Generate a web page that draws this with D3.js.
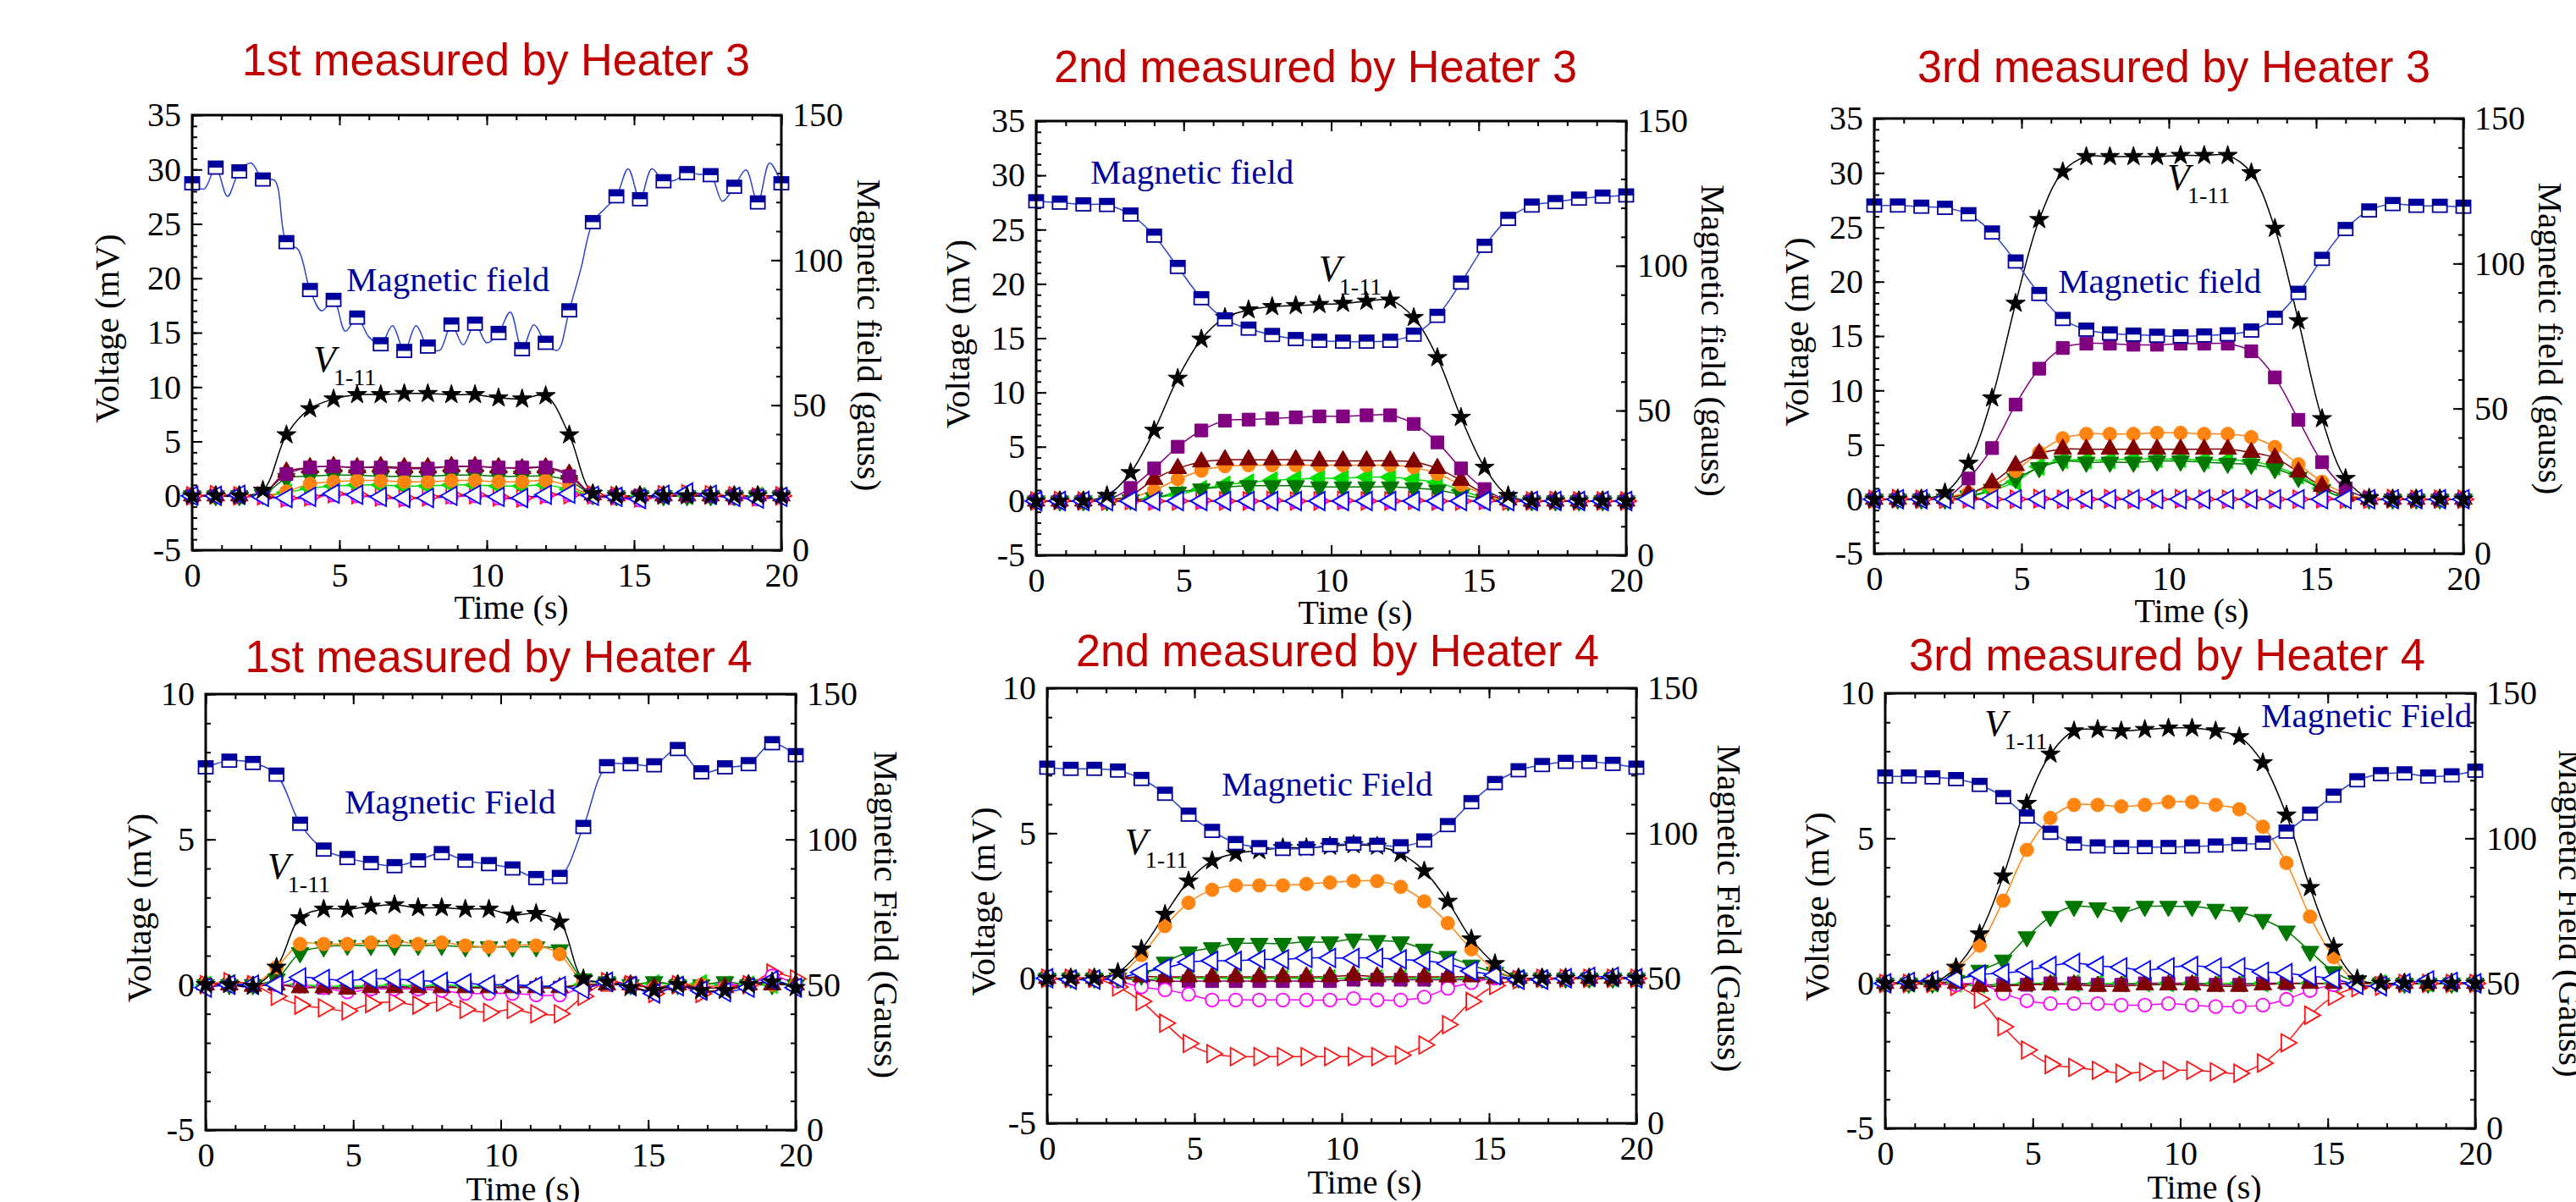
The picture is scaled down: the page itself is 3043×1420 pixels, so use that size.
<!DOCTYPE html>
<html>
<head>
<meta charset="utf-8">
<script src="https://cdn.jsdelivr.net/npm/d3@7"></script>
<style>
    html, body { margin: 0; padding: 0; background: #fff; }
    svg { display: block; }
</style>
</head>
<body>
<svg id="chart"></svg>
<script>
// sample times (s), one marker every 0.8 s
const times = [0, 0.8, 1.6, 2.4, 3.2, 4.0, 4.8, 5.6, 6.4, 7.2, 8.0, 8.8, 9.6, 10.4, 11.2, 12.0, 12.8, 13.6, 14.4, 15.2, 16.0, 16.8, 17.6, 18.4, 19.2, 20.0]
// the field trace of the first run is logged twice as often as the markers
const denseTimes = [0, 0.4, 0.8, 1.2, 1.6, 2.0, 2.4, 2.8, 3.2, 3.6, 4.0, 4.4, 4.8, 5.2, 5.6, 6.0, 6.4, 6.8, 7.2, 7.6, 8.0, 8.4, 8.8, 9.2, 9.6, 10.0,
    10.4, 10.8, 11.2, 11.6, 12.0, 12.4, 12.8, 13.2, 13.6, 14.0, 14.4, 14.8, 15.2, 15.6, 16.0, 16.4, 16.8, 17.2, 17.6, 18.0, 18.4, 18.8, 19.2, 19.6, 20.0]

const runTitles = ['1st measured by Heater 3', '2nd measured by Heater 3', '3rd measured by Heater 3',
    '1st measured by Heater 4', '2nd measured by Heater 4', '3rd measured by Heater 4']

const xTickLabels = [0, 5, 10, 15, 20]
const voltTicksHeater3 = [-5, 0, 5, 10, 15, 20, 25, 30, 35]
const voltTicksHeater4 = [-5, 0, 5, 10]
const fieldTicks = [0, 50, 100, 150]

// ---- heater 3, run 1 ----
const h3r1Field = [126.5, 131.9, 130.6, 127.8, 106.2, 89.7, 86.3, 80.2, 71.0, 68.7, 70.2, 77.8, 78.1, 74.9, 69.3, 71.5, 82.7, 113.1, 122.0, 121.0, 127.2, 130.0, 129.3, 125.3, 119.9, 126.5]
const h3r1FieldTrace = [126.5, 124.5, 131.9, 122.0, 130.6, 133.5, 127.8, 127.5, 106.2, 103.6, 89.7, 82.5, 86.3, 75.5, 80.2, 73.5, 71.0, 77.4, 68.7, 77.4, 70.2, 68.9, 77.8, 70.8, 78.1, 71.5,
    74.9, 82.1, 69.3, 77.7, 71.5, 68.9, 82.7, 97.2, 113.1, 117.7, 122.0, 131.5, 121.0, 131.5, 127.2, 127.6, 130.0, 129.6, 129.3, 120.3, 125.3, 131.1, 119.9, 133.5, 126.5]
const h3r1V = [0, 0, 0, 0.5, 5.6, 8.0, 8.9, 9.3, 9.3, 9.4, 9.4, 9.3, 9.3, 9.0, 8.9, 9.2, 5.6, 0.2, 0, 0, 0, 0, 0, 0, 0, 0]
const h3r1Purple = [0, 0, 0, 0.2, 2.0, 2.6, 2.7, 2.6, 2.6, 2.5, 2.5, 2.7, 2.7, 2.6, 2.6, 2.6, 1.8, 0.1, 0, 0, 0, 0, 0, 0, 0, 0]
const h3r1Maroon = [0, 0, 0, 0.2, 2.2, 2.6, 2.7, 2.6, 2.7, 2.6, 2.6, 2.7, 2.7, 2.6, 2.5, 2.6, 2.0, 0.1, 0, 0, 0, 0, 0, 0, 0, 0]
const h3r1Orange = [0, 0, 0, 0, 0.4, 1.1, 1.3, 1.4, 1.4, 1.3, 1.3, 1.4, 1.4, 1.3, 1.3, 1.4, 0.9, 0, 0, 0, 0, 0, 0, 0, 0, 0]
const h3r1DkGreen = [0, 0, 0, 0.1, 1.6, 1.8, 1.9, 1.9, 1.8, 1.8, 1.8, 1.9, 1.9, 1.8, 1.8, 1.8, 1.4, 0.1, 0, 0, 0, 0, 0, 0, 0, 0]
const h3r1LtGreen = [0, 0, 0, 0, 0.3, 0.7, 0.9, 1.0, 1.0, 0.9, 0.9, 1.0, 1.0, 0.9, 0.9, 1.0, 0.6, 0, 0, 0, 0, 0, 0, 0, 0, 0]
const h3r1Blue = [0, 0, 0.1, -0.1, -0.2, -0.1, 0.2, 0.1, -0.1, -0.2, -0.2, 0, 0.1, -0.1, -0.2, 0.1, 0.2, 0, -0.1, -0.3, 0.1, 0.3, 0.1, -0.1, -0.25, -0.1]
const h3r1Magenta = [-0.1, 0, -0.1, -0.1, -0.3, -0.2, 0.1, 0, -0.2, -0.3, -0.2, -0.1, 0, -0.2, -0.3, 0, 0.1, -0.1, -0.2, -0.4, 0, 0.2, 0, -0.2, -0.3, -0.1]
const h3r1Red = [0, 0.1, 0, 0, -0.2, -0.1, 0.2, 0.1, -0.1, -0.2, -0.1, 0.1, 0.1, -0.1, -0.2, 0.1, 0.1, 0.1, 0, -0.2, 0.1, 0.2, 0.1, 0, -0.1, 0]

// ---- heater 3, run 2 ----
const h3r2Field = [122.3, 121.8, 121.2, 121.0, 117.7, 110.4, 99.6, 88.8, 81.5, 78.3, 76.1, 74.7, 74.1, 73.8, 73.8, 74.1, 76.2, 82.7, 94.2, 106.9, 116.2, 120.8, 122.0, 123.2, 123.9, 124.3]
const h3r2V = [0, 0, 0, 0.5, 2.6, 6.5, 11.3, 14.9, 16.9, 17.6, 17.9, 18.0, 18.1, 18.2, 18.4, 18.5, 16.9, 13.2, 7.7, 3.1, 0.5, 0, 0, 0, 0, 0]
const h3r2Purple = [0, 0, 0, 0.1, 1.2, 3.0, 5.0, 6.5, 7.4, 7.5, 7.6, 7.7, 7.8, 7.8, 7.9, 7.9, 7.1, 5.4, 3.0, 1.1, 0.1, 0, 0, 0, 0, 0]
const h3r2Maroon = [0, 0, 0, 0.1, 0.5, 2.0, 3.0, 3.6, 3.8, 3.8, 3.8, 3.8, 3.7, 3.7, 3.7, 3.7, 3.6, 3.0, 1.9, 0.7, 0.1, 0, 0, 0, 0, 0]
const h3r2Orange = [0, 0, 0, 0, 0.3, 1.0, 2.0, 2.8, 3.2, 3.3, 3.3, 3.3, 3.3, 3.3, 3.3, 3.3, 3.1, 2.5, 1.5, 0.6, 0, 0, 0, 0, 0, 0]
const h3r2DkGreen = [0, 0, 0, 0, 0.1, 0.3, 0.8, 1.1, 1.3, 1.4, 1.4, 1.4, 1.3, 1.3, 1.3, 1.3, 1.2, 1.0, 0.6, 0.2, 0, 0, 0, 0, 0, 0]
const h3r2LtGreen = [0, 0, 0, 0, 0.1, 0.3, 0.6, 1.1, 1.5, 1.7, 1.9, 2.0, 2.1, 2.1, 2.2, 2.2, 2.0, 1.7, 1.0, 0.3, 0, 0, 0, 0, 0, 0]
const h3r2Blue = [0, 0, 0, 0, 0, 0, 0, 0, 0, 0, 0, 0, 0, 0, 0, 0, 0, 0, 0, 0, 0, 0, 0, 0, 0, 0]
const h3r2Magenta = [0, -0.05, 0, -0.05, 0, -0.05, 0, -0.05, 0, -0.05, 0, -0.05, 0, -0.05, 0, -0.05, 0, -0.05, 0, -0.05, 0, -0.05, 0, -0.05, 0, 0]
const h3r2Red = [0, 0.05, 0, 0, 0.05, 0, 0, 0.05, 0, 0, 0.05, 0, 0, 0.05, 0, 0, 0.05, 0, 0, 0.05, 0, 0, 0.05, 0, 0, 0]

// ---- heater 3, run 3 ----
const h3r3Field = [120.0, 120.0, 119.6, 119.2, 117.0, 110.7, 100.7, 89.5, 80.9, 77.2, 75.9, 75.5, 75.1, 74.9, 75.2, 75.6, 76.9, 81.3, 89.9, 101.6, 111.9, 118.3, 120.5, 119.9, 119.9, 119.6]
const h3r3V = [0, 0, 0, 0.6, 3.3, 9.3, 18.0, 25.7, 30.1, 31.5, 31.5, 31.5, 31.5, 31.6, 31.6, 31.6, 30.0, 24.9, 16.4, 7.4, 1.9, 0.1, 0, 0, 0, 0]
const h3r3Purple = [0, 0, 0, 0.1, 1.9, 4.7, 8.7, 12.0, 13.9, 14.3, 14.3, 14.2, 14.2, 14.3, 14.3, 14.3, 13.6, 11.2, 7.3, 3.4, 1.0, 0.1, 0, 0, 0, 0]
const h3r3Maroon = [0, 0, 0, 0.1, 0.5, 1.5, 3.1, 4.2, 4.6, 4.6, 4.6, 4.6, 4.6, 4.6, 4.6, 4.6, 4.3, 3.8, 2.5, 1.2, 0.3, 0, 0, 0, 0, 0]
const h3r3Orange = [0, 0, 0, 0.2, 0.6, 1.2, 2.6, 4.3, 5.6, 6.0, 6.0, 6.0, 6.1, 6.1, 6.0, 6.0, 5.7, 4.8, 3.2, 1.6, 0.5, 0, 0, 0, 0, 0]
const h3r3DkGreen = [0, 0, 0, 0, 0.3, 0.9, 1.9, 2.9, 3.5, 3.4, 3.4, 3.4, 3.5, 3.5, 3.4, 3.3, 3.2, 2.8, 2.0, 0.9, 0.1, 0, 0, 0, 0, 0]
const h3r3LtGreen = [0, 0, 0, 0, 0.2, 0.8, 1.6, 3.0, 3.6, 3.6, 3.6, 3.7, 3.7, 3.7, 3.6, 3.6, 3.5, 3.0, 2.2, 1.0, 0.1, 0, 0, 0, 0, 0]
const h3r3Blue = [0, 0, 0, 0, 0, 0, 0, 0, 0, 0, 0, 0, 0, 0, 0, 0, 0, 0, 0, 0, 0, 0, 0, 0, 0, 0]
const h3r3Magenta = [0, -0.05, 0, -0.05, 0, -0.05, 0, -0.05, 0, -0.05, 0, -0.05, 0, -0.05, 0, -0.05, 0, -0.05, 0, -0.05, 0, -0.05, 0, -0.05, 0, 0]
const h3r3Red = [0, 0.05, 0, 0, 0.05, 0, 0, 0.05, 0, 0, 0.05, 0, 0, 0.05, 0, 0, 0.05, 0, 0, 0.05, 0, 0, 0.05, 0, 0, 0]

// ---- heater 4, run 1 ----
const h4r1Field = [124.8, 127.1, 126.3, 122.3, 105.4, 96.5, 93.6, 91.9, 90.8, 92.8, 95.3, 92.7, 91.5, 90.0, 86.7, 87.1, 104.3, 125.2, 125.9, 125.5, 131.1, 123.1, 124.8, 125.9, 133.1, 129.0]
const h4r1V = [0, 0, -0.05, 0.6, 2.3, 2.6, 2.6, 2.7, 2.75, 2.65, 2.65, 2.6, 2.6, 2.4, 2.45, 2.15, 0.2, 0.1, -0.1, -0.2, 0, -0.2, -0.2, 0, 0.1, -0.1]
const h4r1Orange = [0, 0, 0, 0.6, 1.4, 1.4, 1.4, 1.45, 1.5, 1.4, 1.45, 1.35, 1.3, 1.35, 1.35, 1.05, 0.1, 0, 0, -0.1, 0, 0, -0.1, 0, 0, 0]
const h4r1DkGreen = [0, 0, 0, 0.2, 1.1, 1.3, 1.35, 1.35, 1.35, 1.35, 1.35, 1.3, 1.3, 1.3, 1.3, 1.2, 0.2, 0.1, 0, 0.1, 0, 0, 0.1, 0, 0, 0]
const h4r1Blue = [-0.1, 0, 0, 0, 0.25, 0.2, 0.15, 0.2, 0.2, 0.15, 0.1, 0.05, 0, 0, -0.05, -0.05, -0.15, 0.1, -0.05, -0.3, -0.05, -0.2, -0.25, -0.1, 0.15, -0.1]
const h4r1Magenta = [-0.05, 0, 0, 0, -0.05, -0.1, -0.25, -0.15, -0.15, -0.15, -0.2, -0.3, -0.3, -0.3, -0.35, -0.35, -0.1, 0, 0, -0.1, 0, -0.1, 0, 0, 0.3, 0]
const h4r1Red = [0, 0.1, 0, -0.4, -0.7, -0.8, -0.9, -0.65, -0.6, -0.7, -0.6, -0.85, -0.95, -0.85, -1.0, -1.0, -0.4, 0.1, 0, -0.3, 0, -0.3, -0.1, 0, 0.4, 0.2]
const h4r1Maroon = [0, 0, -0.05, 0, -0.1, -0.1, -0.15, -0.1, -0.1, -0.1, -0.1, -0.1, -0.1, -0.1, -0.1, -0.1, 0, 0, 0, -0.1, 0, -0.1, -0.1, 0, 0, 0]
const h4r1Purple = [0, 0, 0, 0, -0.05, -0.1, -0.1, -0.1, -0.05, -0.1, -0.05, -0.1, -0.1, -0.05, -0.1, -0.1, 0, 0, 0.05, -0.1, 0, -0.1, 0, 0, 0.05, 0]
const h4r1LtGreen = [0, 0.05, 0, 0, 0, -0.05, -0.05, -0.05, 0, -0.05, 0, -0.05, -0.05, 0, -0.05, -0.05, 0, 0.05, 0, 0.05, 0, 0.05, 0, 0, 0, 0]

// ---- heater 4, run 2 ----
const h4r2Field = [122.6, 122.2, 122.2, 121.6, 118.7, 113.6, 106.4, 100.8, 96.6, 95.2, 94.6, 94.8, 95.9, 96.4, 96.0, 95.5, 97.5, 102.8, 110.7, 117.3, 121.7, 123.5, 124.6, 124.6, 123.9, 122.6]
const h4r2V = [0, 0, 0, 0.2, 1.0, 2.2, 3.35, 4.05, 4.3, 4.4, 4.5, 4.5, 4.55, 4.6, 4.55, 4.3, 3.7, 2.65, 1.35, 0.5, 0, 0, 0, 0, 0, 0]
const h4r2Orange = [0, 0, 0, 0.1, 0.8, 1.8, 2.6, 3.05, 3.2, 3.2, 3.2, 3.25, 3.3, 3.35, 3.35, 3.15, 2.65, 1.9, 1.0, 0.3, 0, 0, 0, 0, 0, 0]
const h4r2DkGreen = [0, 0, 0, 0, 0.1, 0.55, 0.9, 1.05, 1.2, 1.2, 1.2, 1.25, 1.25, 1.35, 1.3, 1.25, 1.0, 0.75, 0.45, 0.2, 0, 0, 0, 0, 0, 0]
const h4r2Blue = [0, -0.05, -0.05, 0, 0.2, 0.35, 0.55, 0.6, 0.6, 0.65, 0.65, 0.7, 0.7, 0.7, 0.7, 0.65, 0.6, 0.5, 0.25, 0.1, -0.05, -0.05, 0, 0.05, 0.05, 0]
const h4r2Magenta = [0, 0, 0, -0.1, -0.3, -0.4, -0.55, -0.75, -0.75, -0.75, -0.75, -0.75, -0.75, -0.7, -0.75, -0.75, -0.65, -0.35, -0.15, 0, 0, 0, 0, 0, 0, 0]
const h4r2Red = [0, 0, 0, -0.3, -0.8, -1.55, -2.25, -2.6, -2.7, -2.7, -2.7, -2.7, -2.7, -2.7, -2.7, -2.65, -2.3, -1.6, -0.8, -0.25, -0.05, 0, 0, 0, 0, 0]
const h4r2Maroon = [0, 0, 0, 0, 0.05, 0.05, 0.05, 0.05, 0.05, 0.05, 0.05, 0.05, 0.05, 0.1, 0.05, 0.05, 0.05, 0.05, 0.05, 0, 0, 0, 0, 0, 0, 0]
const h4r2Purple = [0, 0, 0, 0, -0.05, -0.1, -0.1, -0.1, -0.1, -0.1, -0.1, -0.1, -0.1, -0.05, -0.05, -0.05, -0.05, -0.05, -0.05, 0, 0, 0, 0, 0, 0, 0]
const h4r2LtGreen = [0, 0, 0, 0, -0.05, 0, 0, 0, 0, 0, 0, 0, 0, 0, 0, 0, 0, 0, 0, 0, 0, 0, 0, 0, 0, 0]

// ---- heater 4, run 3 ----
const h4r3Field = [121.3, 121.3, 121.0, 120.4, 118.4, 114.2, 107.5, 101.9, 98.2, 97.2, 97.0, 97.0, 97.0, 97.2, 97.5, 98.0, 98.5, 102.3, 108.5, 114.7, 120.0, 122.1, 122.4, 121.3, 121.7, 123.3]
const h4r3V = [0, 0, 0, 0.55, 1.7, 3.7, 6.2, 7.9, 8.7, 8.75, 8.7, 8.75, 8.8, 8.8, 8.7, 8.5, 7.6, 5.8, 3.3, 1.25, 0.15, 0, 0, 0, 0, 0]
const h4r3Orange = [0, 0, 0, 0.5, 1.3, 2.85, 4.6, 5.7, 6.15, 6.15, 6.1, 6.15, 6.25, 6.25, 6.15, 6.0, 5.4, 4.15, 2.3, 0.9, 0.05, 0, 0, 0, 0, 0]
const h4r3DkGreen = [0, 0, 0, 0.1, 0.45, 0.8, 1.6, 2.3, 2.65, 2.6, 2.45, 2.65, 2.65, 2.65, 2.55, 2.45, 2.2, 1.8, 1.1, 0.4, 0.05, 0, 0, 0, 0, 0]
const h4r3Blue = [0, 0.05, 0.1, 0.15, 0.3, 0.35, 0.45, 0.6, 0.7, 0.6, 0.55, 0.45, 0.55, 0.6, 0.55, 0.55, 0.4, 0.35, 0.25, 0.15, -0.05, -0.1, 0, 0.1, 0.05, 0]
const h4r3Magenta = [0, 0, 0, -0.05, 0, -0.35, -0.6, -0.7, -0.7, -0.7, -0.75, -0.75, -0.7, -0.75, -0.8, -0.8, -0.75, -0.55, -0.25, -0.05, 0, 0, 0, 0, 0, 0]
const h4r3Red = [0, 0, 0, -0.1, -0.55, -1.5, -2.3, -2.8, -2.9, -3.0, -3.1, -3.05, -3.0, -3.0, -3.05, -3.1, -2.75, -2.05, -1.1, -0.45, -0.15, -0.1, 0, 0, 0, 0]
const h4r3Maroon = [0, 0, 0.05, 0, -0.1, -0.1, -0.05, -0.05, -0.05, -0.1, -0.1, -0.05, -0.05, -0.05, -0.1, -0.1, -0.05, 0, 0, 0, 0, 0, 0, 0, 0, 0]
const h4r3Purple = [0, 0, 0, 0, -0.05, -0.05, -0.05, 0, 0, -0.05, -0.05, 0, 0, 0, -0.05, -0.05, 0, 0, 0, 0, 0, 0, 0, 0, 0, 0]
const h4r3LtGreen = [0, 0, 0, 0, -0.05, -0.05, 0, 0, 0, 0, 0, 0, 0, 0, 0, 0, 0, 0, 0, 0, 0, 0, 0, 0, 0, 0]

// annotation anchors in data units [time, voltage]
const v111Anchors = [[4.11, 11.4], [9.58, 20.3], [9.94, 28.5], [2.09, 3.65], [2.64, 4.28], [3.36, 8.54]]
const fieldLabelAnchors = [[5.23, 18.8], [1.84, 29.2], [6.24, 19.0], [4.71, 5.9], [5.92, 6.3], [12.74, 8.83]]

const runs = [
    { field: h3r1Field, trace: h3r1FieldTrace, series: { red: h3r1Red, magenta: h3r1Magenta, ltgreen: h3r1LtGreen, dkgreen: h3r1DkGreen, orange: h3r1Orange, maroon: h3r1Maroon, purple: h3r1Purple, blue: h3r1Blue, v111: h3r1V } },
    { field: h3r2Field, series: { red: h3r2Red, magenta: h3r2Magenta, ltgreen: h3r2LtGreen, dkgreen: h3r2DkGreen, orange: h3r2Orange, maroon: h3r2Maroon, purple: h3r2Purple, blue: h3r2Blue, v111: h3r2V } },
    { field: h3r3Field, series: { red: h3r3Red, magenta: h3r3Magenta, ltgreen: h3r3LtGreen, dkgreen: h3r3DkGreen, orange: h3r3Orange, maroon: h3r3Maroon, purple: h3r3Purple, blue: h3r3Blue, v111: h3r3V } },
    { field: h4r1Field, series: { ltgreen: h4r1LtGreen, purple: h4r1Purple, red: h4r1Red, magenta: h4r1Magenta, dkgreen: h4r1DkGreen, orange: h4r1Orange, maroon: h4r1Maroon, blue: h4r1Blue, v111: h4r1V } },
    { field: h4r2Field, series: { ltgreen: h4r2LtGreen, purple: h4r2Purple, red: h4r2Red, magenta: h4r2Magenta, dkgreen: h4r2DkGreen, orange: h4r2Orange, maroon: h4r2Maroon, blue: h4r2Blue, v111: h4r2V } },
    { field: h4r3Field, series: { ltgreen: h4r3LtGreen, purple: h4r3Purple, red: h4r3Red, magenta: h4r3Magenta, dkgreen: h4r3DkGreen, orange: h4r3Orange, maroon: h4r3Maroon, blue: h4r3Blue, v111: h4r3V } }
]

// ---- layout and styles ----
const W = 3043
const H = 1420
const serif = '"Liberation Serif", "Times New Roman", serif'
const sans = '"Liberation Sans", Arial, sans-serif'
const titleColour = '#c00000'
const fieldColour = '#00009c'
const fieldLine = '#2c44c8'

const boxes = [
    { left: 227, top: 136, width: 696, height: 514, titleX: 586, titleY: 89, titleLen: 600, yLabX: 126, rLabX: 1027, xLabX: 604, xLabY: 731 },
    { left: 1224, top: 143, width: 697, height: 513, titleX: 1554, titleY: 97, titleLen: 618, yLabX: 1131, rLabX: 2024, xLabX: 1601, xLabY: 737 },
    { left: 2214, top: 140, width: 696, height: 514, titleX: 2568, titleY: 97, titleLen: 606, yLabX: 2122, rLabX: 3013, xLabX: 2589, xLabY: 735 },
    { left: 243, top: 820, width: 697, height: 515, titleX: 589, titleY: 794, titleLen: 599, yLabX: 164, rLabX: 1047, xLabX: 618, xLabY: 1418 },
    { left: 1237, top: 813, width: 696, height: 514, titleX: 1580, titleY: 787, titleLen: 618, yLabX: 1161, rLabX: 2043, xLabX: 1612, xLabY: 1410 },
    { left: 2227, top: 819, width: 697, height: 514, titleX: 2560, titleY: 792, titleLen: 610, yLabX: 2146, rLabX: 3037, xLabX: 2604, xLabY: 1416 }
]

const seriesStyle = {
    red: { colour: '#ff1010', shape: d3.symbolTriangle, rotate: 90, size: 190, hollow: true },
    magenta: { colour: '#ff00ff', shape: d3.symbolCircle, rotate: 0, size: 190, hollow: true },
    ltgreen: { colour: '#00e000', shape: d3.symbolTriangle, rotate: -90, size: 190, hollow: false },
    dkgreen: { colour: '#007800', shape: d3.symbolTriangle, rotate: 180, size: 190, hollow: false },
    orange: { colour: '#ff8410', shape: d3.symbolCircle, rotate: 0, size: 200, hollow: false },
    maroon: { colour: '#800000', shape: d3.symbolTriangle, rotate: 0, size: 190, hollow: false },
    purple: { colour: '#800080', shape: d3.symbolSquare, rotate: 0, size: 230, hollow: false },
    blue: { colour: '#0000ff', shape: d3.symbolTriangle, rotate: -90, size: 210, hollow: true },
    v111: { colour: '#000000', shape: d3.symbolStar, rotate: 0, size: 160, hollow: false }
}

const svg = d3.select('#chart').attr('width', W).attr('height', H)
svg.append('rect').attr('width', W).attr('height', H).attr('fill', '#fff')

const styleAxis = (sel) => {
    sel.select('.domain').remove()
    sel.attr('font-family', null).attr('font-size', null)
    sel.selectAll('line').attr('stroke', '#000').attr('stroke-width', 2)
    sel.selectAll('text').attr('font-family', serif).attr('font-size', 40).attr('fill', '#000')
}

const drawPanel = (run, box, i) => {
    const heater3 = i < 3
    const voltTicks = heater3 ? voltTicksHeater3 : voltTicksHeater4
    const vMin = voltTicks[0]
    const vMax = voltTicks[voltTicks.length - 1]

    const x = d3.scaleLinear().domain([0, 20]).range([0, box.width])
    const y = d3.scaleLinear().domain([vMin, vMax]).range([box.height, 0])
    const yR = d3.scaleLinear().domain([0, 150]).range([box.height, 0])

    const g = svg.append('g').attr('transform', `translate(${box.left},${box.top})`)

    // minor ticks
    g.append('g').call(d3.axisLeft(y).tickValues(d3.range(vMin, vMax + 1, 1)).tickSize(-6).tickFormat('')).call(styleAxis)
    g.append('g').attr('transform', `translate(${box.width},0)`)
        .call(d3.axisRight(yR).tickValues(d3.range(0, 151, 10)).tickSize(-6).tickFormat('')).call(styleAxis)
    g.append('g').attr('transform', `translate(0,${box.height})`)
        .call(d3.axisBottom(x).tickValues(d3.range(0, 21, 1)).tickSize(-6).tickFormat('')).call(styleAxis)
    g.append('g').call(d3.axisTop(x).tickValues(d3.range(0, 21, 1)).tickSize(-6).tickFormat('')).call(styleAxis)

    // major ticks + labels
    g.append('g').call(d3.axisLeft(y).tickValues(voltTicks).tickSize(-12).tickPadding(13).tickFormat(d => String(d))).call(styleAxis)
    g.append('g').attr('transform', `translate(${box.width},0)`)
        .call(d3.axisRight(yR).tickValues(fieldTicks).tickSize(-12).tickPadding(13).tickFormat(d => String(d))).call(styleAxis)
    g.append('g').attr('transform', `translate(0,${box.height})`)
        .call(d3.axisBottom(x).tickValues(xTickLabels).tickSize(-12).tickPadding(15).tickFormat(d => String(d))).call(styleAxis)
    g.append('g').call(d3.axisTop(x).tickValues(xTickLabels).tickSize(-12).tickFormat('')).call(styleAxis)

    // lines
    const curve = d3.curveCatmullRom.alpha(0.5)
    const vLine = d3.line().x((d, k) => x(times[k])).y(d => y(d)).curve(curve)
    const traceTimes = run.trace ? denseTimes : times
    const fLine = d3.line().x((d, k) => x(traceTimes[k])).y(d => yR(d)).curve(curve)

    const keys = Object.keys(run.series)
    keys.forEach(key => {
        g.append('path').datum(run.series[key])
            .attr('d', vLine)
            .attr('fill', 'none')
            .attr('stroke', seriesStyle[key].colour)
            .attr('stroke-width', 1.5)
    })
    g.append('path').datum(run.trace || run.field)
        .attr('d', fLine)
        .attr('fill', 'none')
        .attr('stroke', fieldLine)
        .attr('stroke-width', 1.5)

    // markers
    keys.forEach(key => {
        const st = seriesStyle[key]
        g.append('g').selectAll('path')
            .data(run.series[key])
            .join('path')
            .attr('d', d3.symbol().type(st.shape).size(st.size))
            .attr('transform', (d, k) => `translate(${x(times[k])},${y(d)}) rotate(${st.rotate})`)
            .attr('fill', st.hollow ? '#fff' : st.colour)
            .attr('stroke', st.colour)
            .attr('stroke-width', st.hollow ? 1.8 : 1)
    })

    // half filled squares for the magnetic field
    const fm = g.append('g').selectAll('g')
        .data(run.field)
        .join('g')
        .attr('transform', (d, k) => `translate(${x(times[k])},${yR(d)})`)
    fm.append('rect').attr('x', -8.5).attr('y', -7.5).attr('width', 17).attr('height', 15)
        .attr('fill', '#fff').attr('stroke', fieldColour).attr('stroke-width', 1.8)
    fm.append('rect').attr('x', -8.5).attr('y', -7.5).attr('width', 17).attr('height', 7.5)
        .attr('fill', fieldColour)

    // frame
    g.append('rect').attr('width', box.width).attr('height', box.height)
        .attr('fill', 'none').attr('stroke', '#000').attr('stroke-width', 3)

    // annotations
    const [vt, vv] = v111Anchors[i]
    g.append('text').attr('x', x(vt)).attr('y', y(vv))
        .attr('font-family', serif).attr('font-style', 'italic').attr('font-size', 44)
        .text('V')
    g.append('text').attr('x', x(vt) + 24).attr('y', y(vv) + 16)
        .attr('font-family', serif).attr('font-size', 28)
        .text('1-11')

    const [ft, fv] = fieldLabelAnchors[i]
    g.append('text').attr('x', x(ft)).attr('y', y(fv))
        .attr('font-family', serif).attr('font-size', 41).attr('fill', fieldColour)
        .text(heater3 ? 'Magnetic field' : 'Magnetic Field')

    // titles and axis titles
    svg.append('text')
        .attr('x', box.titleX).attr('y', box.titleY)
        .attr('text-anchor', 'middle')
        .attr('font-family', sans).attr('font-size', 54)
        .attr('textLength', box.titleLen).attr('lengthAdjust', 'spacingAndGlyphs')
        .attr('fill', titleColour)
        .text(runTitles[i])

    svg.append('text')
        .attr('x', box.xLabX).attr('y', box.xLabY)
        .attr('text-anchor', 'middle')
        .attr('font-family', serif).attr('font-size', 40)
        .text('Time (s)')

    const midY = box.top + box.height / 2
    svg.append('text')
        .attr('transform', `translate(${box.yLabX},${midY - 5}) rotate(-90)`)
        .attr('text-anchor', 'middle').attr('dominant-baseline', 'central')
        .attr('font-family', serif).attr('font-size', 41)
        .text('Voltage (mV)')

    svg.append('text')
        .attr('transform', `translate(${box.rLabX},${midY + 3}) rotate(90)`)
        .attr('text-anchor', 'middle').attr('dominant-baseline', 'central')
        .attr('font-family', serif).attr('font-size', 41)
        .text(heater3 ? 'Magnetic field (gauss)' : 'Magnetic Field (Gauss)')
}

runs.forEach((run, i) => drawPanel(run, boxes[i], i))
</script>
</body>
</html>
